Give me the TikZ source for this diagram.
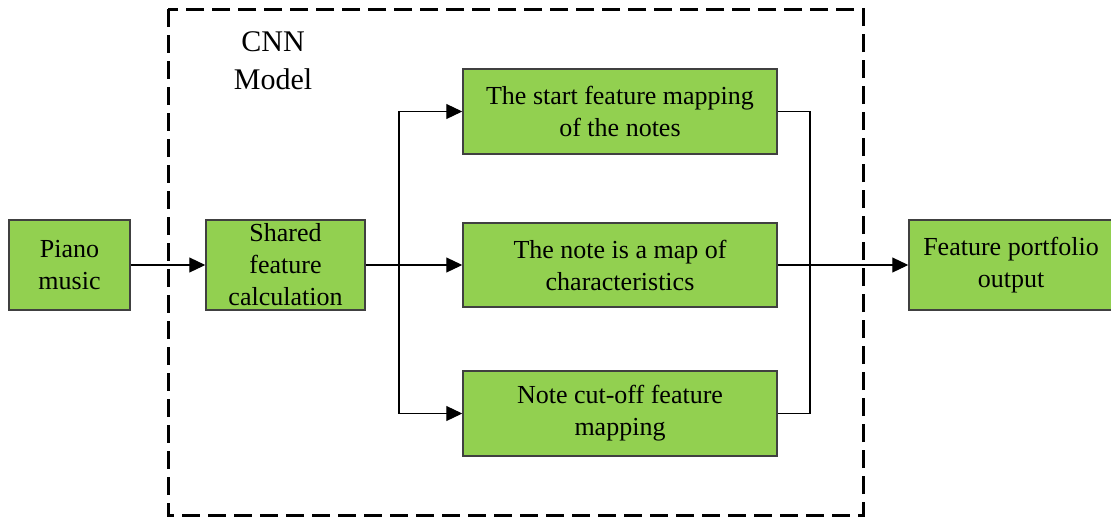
\documentclass[tikz,border=0pt]{standalone}
\usepackage{fontspec}
\setmainfont{Liberation Serif}
\usetikzlibrary{arrows.meta}
\definecolor{blockgreen}{RGB}{146,208,80}
\begin{document}
\begin{tikzpicture}[x=1pt,y=-1pt,
  block/.style={draw=black!75, line width=1.5pt, fill=blockgreen, align=center,
    inner sep=0pt, font=\fontsize{26}{32}\selectfont},
  link/.style={draw=black, line width=1.2pt},
  arr/.style={link, -{Triangle[length=16pt,width=15pt]}},
  frame/.style={draw=black, line width=3pt, dash pattern=on 18pt off 8pt}
]
\useasboundingbox (0,0) rectangle (1111,517);

% dashed frame around the CNN part
\draw[frame] (168,9) rectangle (863,515);
\node[font=\fontsize{30}{38}\selectfont, align=center] (cnn) at (273,61) {CNN\\Model};

% blocks
\node[block, minimum width=121pt, minimum height=90pt] (piano) at (69.5,265) {Piano\\music};
\node[block, minimum width=159pt, minimum height=90pt] (shared) at (285.5,265) {Shared\\feature\\calculation};
\node[block, minimum width=314pt, minimum height=85pt] (start) at (620,111.5) {The start feature mapping\\of the notes};
\node[block, minimum width=314pt, minimum height=84pt] (note) at (620,265) {The note is a map of\\characteristics};
\node[block, minimum width=314pt, minimum height=85pt] (cut) at (620,413.5) {Note cut-off feature\\mapping};
\node[block, minimum width=204pt, minimum height=90pt] (out) at (1011,265) {Feature portfolio\\output};

% branch and merge points
\coordinate (split) at (399,265);
\coordinate (merge) at (810,265);

\draw[arr] (piano) -- (shared);
\draw[link] (shared) -- (split);
\draw[arr] (split) -- (note);
\draw[arr] (split) |- (start.west);
\draw[arr] (split) |- (cut.west);

\draw[link] (start.east) -| (merge);
\draw[link] (cut.east) -| (merge);
\draw[arr] (note) -- (out);
\end{tikzpicture}
\end{document}
